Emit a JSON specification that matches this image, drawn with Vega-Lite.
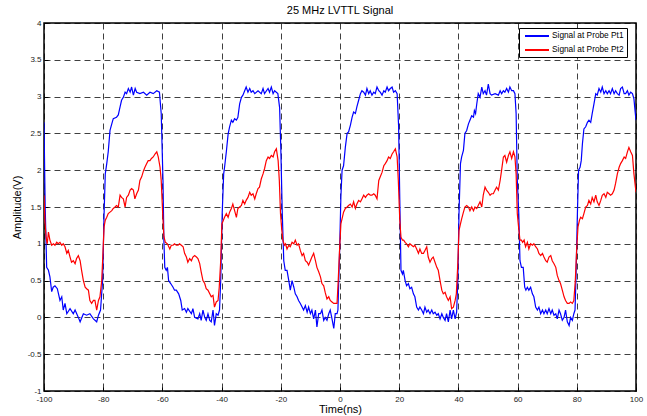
{
  "$schema": "https://vega.github.io/schema/vega-lite/v6.json",
  "width": 592,
  "height": 368,
  "autosize": "none",
  "padding": {"left": 44, "top": 23, "right": 11, "bottom": 25},
  "background": "#ffffff",
  "title": {"text": "25 MHz LVTTL Signal", "fontSize": 11, "fontWeight": "normal", "color": "#000", "font": "Liberation Sans", "offset": 3, "anchor": "middle"},
  "datasets": {
    "pt1": [
      {"t":-100.0,"v":2.65},{"t":-99.6,"v":1.5},{"t":-99.1,"v":0.68},{"t":-98.5,"v":0.64},{"t":-98.0,"v":0.55},{"t":-97.4,"v":0.35},{"t":-96.9,"v":0.41},{"t":-96.3,"v":0.43},{"t":-95.5,"v":0.39},{"t":-94.6,"v":0.23},{"t":-94.0,"v":0.28},{"t":-93.5,"v":0.10},{"t":-92.9,"v":0.19},{"t":-92.3,"v":0.05},{"t":-91.2,"v":0.12},{"t":-90.1,"v":0.05},{"t":-89.5,"v":0.10},{"t":-88.4,"v":0.00},{"t":-87.8,"v":-0.06},{"t":-86.7,"v":0.05},{"t":-85.6,"v":0.03},{"t":-84.5,"v":0.05},{"t":-83.3,"v":-0.02},{"t":-82.2,"v":-0.06},{"t":-81.6,"v":0.03},{"t":-80.9,"v":0.10},{"t":-80.2,"v":0.50},{"t":-79.7,"v":1.41},{"t":-79.3,"v":1.95},{"t":-78.8,"v":2.09},{"t":-78.3,"v":2.25},{"t":-77.7,"v":2.54},{"t":-77.1,"v":2.63},{"t":-76.6,"v":2.70},{"t":-75.5,"v":2.72},{"t":-74.9,"v":2.75},{"t":-74.3,"v":2.86},{"t":-73.8,"v":2.95},{"t":-73.2,"v":2.99},{"t":-72.6,"v":3.06},{"t":-72.1,"v":3.04},{"t":-71.5,"v":3.11},{"t":-70.9,"v":3.06},{"t":-70.4,"v":3.13},{"t":-69.8,"v":3.02},{"t":-69.2,"v":3.11},{"t":-68.7,"v":3.06},{"t":-67.6,"v":3.04},{"t":-66.4,"v":3.06},{"t":-65.3,"v":3.02},{"t":-64.2,"v":3.06},{"t":-63.1,"v":3.04},{"t":-61.9,"v":3.08},{"t":-61.0,"v":3.06},{"t":-60.4,"v":2.77},
      {"t":-59.8,"v":1.86},{"t":-59.5,"v":1.05},{"t":-59.2,"v":0.68},{"t":-58.7,"v":0.64},{"t":-58.3,"v":0.68},{"t":-57.9,"v":0.50},{"t":-57.2,"v":0.46},{"t":-56.4,"v":0.41},{"t":-55.9,"v":0.37},{"t":-55.3,"v":0.37},{"t":-54.5,"v":0.32},{"t":-53.8,"v":0.23},{"t":-53.3,"v":0.10},{"t":-52.5,"v":0.12},{"t":-51.9,"v":0.07},{"t":-51.4,"v":0.12},{"t":-50.2,"v":0.05},{"t":-49.7,"v":0.12},{"t":-49.1,"v":0.00},{"t":-48.0,"v":-0.02},{"t":-47.4,"v":0.05},{"t":-46.9,"v":-0.04},{"t":-46.3,"v":0.10},{"t":-45.7,"v":0.00},{"t":-45.2,"v":-0.04},{"t":-44.6,"v":0.05},{"t":-44.0,"v":-0.04},{"t":-43.5,"v":-0.06},{"t":-42.9,"v":0.10},{"t":-42.4,"v":-0.11},{"t":-41.8,"v":0.05},{"t":-41.2,"v":0.03},{"t":-40.7,"v":0.10},{"t":-40.3,"v":0.50},{"t":-39.8,"v":1.41},{"t":-39.3,"v":1.95},{"t":-39.0,"v":2.04},{"t":-38.4,"v":2.25},{"t":-37.8,"v":2.49},{"t":-37.3,"v":2.59},{"t":-36.7,"v":2.68},{"t":-36.2,"v":2.65},{"t":-35.6,"v":2.70},{"t":-35.0,"v":2.68},{"t":-34.5,"v":2.72},{"t":-33.9,"v":2.90},{"t":-33.3,"v":2.99},{"t":-32.8,"v":3.02},{"t":-32.2,"v":3.08},{"t":-31.7,"v":3.13},{"t":-31.1,"v":3.06},{"t":-30.5,"v":3.11},{"t":-30.0,"v":3.06},{"t":-29.4,"v":3.08},{"t":-28.8,"v":3.04},{"t":-27.7,"v":3.08},{"t":-26.6,"v":3.04},{"t":-26.0,"v":3.11},{"t":-25.5,"v":3.04},{"t":-24.3,"v":3.11},{"t":-23.8,"v":3.06},{"t":-23.2,"v":3.13},{"t":-22.6,"v":3.04},{"t":-22.1,"v":3.08},{"t":-21.0,"v":3.04},{"t":-20.4,"v":2.85},
      {"t":-20.0,"v":2.3},{"t":-19.5,"v":1.41},{"t":-19.0,"v":0.77},{"t":-18.5,"v":0.64},{"t":-17.9,"v":0.64},{"t":-17.3,"v":0.50},{"t":-16.8,"v":0.37},{"t":-16.2,"v":0.50},{"t":-15.6,"v":0.41},{"t":-15.1,"v":0.32},{"t":-14.5,"v":0.28},{"t":-14.0,"v":0.23},{"t":-13.4,"v":0.19},{"t":-12.8,"v":0.14},{"t":-12.3,"v":0.10},{"t":-11.7,"v":0.16},{"t":-11.1,"v":0.07},{"t":-10.6,"v":0.14},{"t":-10.0,"v":0.05},{"t":-9.5,"v":0.10},{"t":-8.9,"v":-0.02},{"t":-8.3,"v":0.10},{"t":-7.8,"v":-0.13},{"t":-7.2,"v":0.05},{"t":-6.6,"v":0.05},{"t":-6.1,"v":0.10},{"t":-5.5,"v":-0.04},{"t":-5.0,"v":0.00},{"t":-4.4,"v":-0.04},{"t":-3.8,"v":0.05},{"t":-3.3,"v":0.10},{"t":-2.7,"v":-0.02},{"t":-2.1,"v":-0.15},{"t":-1.6,"v":0.05},{"t":-1.0,"v":0.05},{"t":-0.7,"v":0.10},{"t":-0.1,"v":0.96},{"t":0.3,"v":1.64},{"t":0.7,"v":2.00},{"t":1.2,"v":2.06},{"t":1.8,"v":2.31},{"t":2.4,"v":2.50},{"t":2.9,"v":2.52},{"t":3.5,"v":2.61},{"t":4.1,"v":2.72},{"t":4.6,"v":2.79},{"t":5.2,"v":2.77},{"t":5.7,"v":2.86},{"t":6.3,"v":2.95},{"t":6.9,"v":3.04},{"t":7.4,"v":3.08},{"t":8.0,"v":3.06},{"t":8.6,"v":3.02},{"t":9.1,"v":3.11},{"t":9.7,"v":3.04},{"t":10.2,"v":3.08},{"t":10.8,"v":3.02},{"t":11.4,"v":3.06},{"t":11.9,"v":3.04},{"t":12.5,"v":3.13},{"t":13.1,"v":3.08},{"t":13.6,"v":3.06},{"t":14.2,"v":3.02},{"t":14.8,"v":3.08},{"t":15.3,"v":3.06},{"t":15.9,"v":3.13},{"t":16.4,"v":3.08},{"t":17.0,"v":3.11},{"t":17.6,"v":3.13},{"t":18.1,"v":3.06},{"t":18.7,"v":3.08},{"t":19.3,"v":3.04},{"t":19.8,"v":2.6},
      {"t":20.2,"v":1.6},{"t":20.6,"v":0.64},{"t":21.1,"v":0.59},{"t":21.4,"v":0.64},{"t":22.0,"v":0.50},{"t":22.5,"v":0.43},{"t":23.1,"v":0.46},{"t":23.6,"v":0.39},{"t":24.2,"v":0.41},{"t":24.8,"v":0.32},{"t":25.3,"v":0.28},{"t":25.9,"v":0.14},{"t":26.5,"v":0.10},{"t":27.0,"v":0.14},{"t":27.6,"v":0.10},{"t":28.2,"v":0.05},{"t":28.7,"v":0.14},{"t":29.3,"v":0.07},{"t":29.8,"v":0.10},{"t":30.4,"v":0.05},{"t":31.0,"v":0.10},{"t":31.5,"v":0.05},{"t":32.1,"v":0.07},{"t":32.7,"v":0.03},{"t":33.2,"v":0.05},{"t":33.8,"v":-0.02},{"t":34.4,"v":0.05},{"t":34.9,"v":0.00},{"t":35.5,"v":-0.04},{"t":36.0,"v":0.05},{"t":36.6,"v":-0.06},{"t":37.2,"v":0.10},{"t":37.7,"v":-0.02},{"t":38.3,"v":0.10},{"t":38.9,"v":-0.02},{"t":39.4,"v":0.07},{"t":39.8,"v":0.50},{"t":40.2,"v":1.41},{"t":40.7,"v":2.09},{"t":41.1,"v":2.18},{"t":41.7,"v":2.27},{"t":42.2,"v":2.50},{"t":42.8,"v":2.54},{"t":43.4,"v":2.63},{"t":43.9,"v":2.68},{"t":44.5,"v":2.74},{"t":45.1,"v":2.72},{"t":45.4,"v":2.81},{"t":45.8,"v":2.77},{"t":46.2,"v":2.90},{"t":46.7,"v":3.04},{"t":47.3,"v":2.99},{"t":47.9,"v":3.13},{"t":48.4,"v":3.04},{"t":49.0,"v":3.08},{"t":49.5,"v":3.02},{"t":50.1,"v":3.17},{"t":50.7,"v":3.04},{"t":51.2,"v":3.02},{"t":52.4,"v":3.04},{"t":53.5,"v":3.02},{"t":54.1,"v":3.08},{"t":54.6,"v":3.04},{"t":55.2,"v":3.08},{"t":55.7,"v":3.06},{"t":56.3,"v":3.11},{"t":56.9,"v":3.06},{"t":57.4,"v":3.13},{"t":58.0,"v":3.08},{"t":58.6,"v":3.08},{"t":59.1,"v":3.04},{"t":59.5,"v":2.77},{"t":59.9,"v":1.86},
      {"t":60.4,"v":1.41},{"t":60.8,"v":0.77},{"t":61.3,"v":0.68},{"t":61.9,"v":0.68},{"t":62.4,"v":0.41},{"t":62.8,"v":0.37},{"t":63.3,"v":0.41},{"t":63.8,"v":0.37},{"t":64.4,"v":0.41},{"t":65.0,"v":0.32},{"t":65.5,"v":0.28},{"t":66.1,"v":0.14},{"t":66.7,"v":0.10},{"t":67.2,"v":0.14},{"t":67.8,"v":0.05},{"t":68.4,"v":0.10},{"t":68.9,"v":0.05},{"t":69.5,"v":0.10},{"t":70.0,"v":0.05},{"t":70.6,"v":0.12},{"t":71.2,"v":0.05},{"t":71.7,"v":0.10},{"t":72.3,"v":0.03},{"t":72.9,"v":0.05},{"t":73.4,"v":-0.02},{"t":74.0,"v":0.10},{"t":74.5,"v":0.05},{"t":75.1,"v":-0.04},{"t":75.7,"v":0.00},{"t":76.2,"v":0.10},{"t":76.8,"v":-0.06},{"t":77.4,"v":-0.11},{"t":77.9,"v":0.00},{"t":78.5,"v":-0.04},{"t":79.0,"v":0.05},{"t":79.4,"v":0.10},{"t":79.7,"v":0.50},{"t":80.2,"v":1.41},{"t":80.6,"v":2.00},{"t":81.1,"v":2.04},{"t":81.5,"v":2.13},{"t":81.9,"v":2.36},{"t":82.4,"v":2.56},{"t":83.0,"v":2.59},{"t":83.6,"v":2.65},{"t":84.1,"v":2.68},{"t":84.7,"v":2.65},{"t":85.2,"v":2.77},{"t":85.8,"v":2.90},{"t":86.4,"v":3.04},{"t":86.9,"v":3.02},{"t":87.5,"v":3.11},{"t":88.1,"v":3.06},{"t":88.6,"v":3.13},{"t":89.2,"v":3.04},{"t":89.8,"v":3.08},{"t":90.3,"v":3.04},{"t":90.9,"v":3.08},{"t":91.4,"v":3.04},{"t":92.0,"v":3.11},{"t":92.6,"v":3.04},{"t":93.1,"v":3.08},{"t":93.7,"v":3.04},{"t":94.3,"v":3.02},{"t":94.8,"v":3.11},{"t":95.4,"v":3.13},{"t":96.0,"v":3.04},{"t":96.5,"v":3.04},{"t":97.1,"v":3.08},{"t":97.6,"v":3.02},{"t":98.2,"v":3.06},{"t":98.8,"v":3.04},{"t":99.3,"v":2.97},{"t":99.7,"v":2.80},{"t":100.0,"v":2.68}
    ],
    "pt2": [
      {"t":-100.0,"v":1.66},{"t":-99.7,"v":1.32},{"t":-99.3,"v":1.09},{"t":-98.9,"v":1.00},{"t":-98.5,"v":1.16},{"t":-98.0,"v":1.05},{"t":-97.4,"v":0.98},{"t":-96.8,"v":1.00},{"t":-96.3,"v":0.98},{"t":-95.7,"v":1.02},{"t":-95.2,"v":1.00},{"t":-94.6,"v":1.02},{"t":-94.0,"v":0.98},{"t":-93.5,"v":1.00},{"t":-92.9,"v":0.96},{"t":-92.3,"v":0.87},{"t":-91.8,"v":0.91},{"t":-91.2,"v":0.82},{"t":-90.7,"v":0.75},{"t":-90.1,"v":0.77},{"t":-89.5,"v":0.73},{"t":-89.0,"v":0.80},{"t":-88.4,"v":0.84},{"t":-87.8,"v":0.77},{"t":-87.3,"v":0.64},{"t":-86.7,"v":0.50},{"t":-86.1,"v":0.41},{"t":-85.6,"v":0.39},{"t":-85.0,"v":0.37},{"t":-84.5,"v":0.23},{"t":-83.9,"v":0.19},{"t":-83.3,"v":0.23},{"t":-82.8,"v":0.23},{"t":-82.2,"v":0.10},{"t":-81.6,"v":0.23},{"t":-81.1,"v":0.28},{"t":-80.5,"v":0.50},{"t":-80.2,"v":0.77},{"t":-79.7,"v":1.23},{"t":-79.3,"v":1.32},{"t":-78.8,"v":1.36},{"t":-78.3,"v":1.41},{"t":-77.7,"v":1.43},{"t":-77.1,"v":1.45},{"t":-76.6,"v":1.48},{"t":-76.0,"v":1.50},{"t":-75.5,"v":1.52},{"t":-74.9,"v":1.50},{"t":-74.3,"v":1.66},{"t":-73.8,"v":1.63},{"t":-73.2,"v":1.61},{"t":-72.6,"v":1.50},{"t":-72.1,"v":1.63},{"t":-71.5,"v":1.66},{"t":-70.9,"v":1.73},{"t":-70.4,"v":1.75},{"t":-69.8,"v":1.73},{"t":-69.3,"v":1.61},{"t":-68.7,"v":1.68},{"t":-68.1,"v":1.73},{"t":-67.6,"v":1.86},{"t":-67.0,"v":1.91},{"t":-66.4,"v":1.99},{"t":-65.9,"v":2.04},{"t":-65.3,"v":2.09},{"t":-64.8,"v":2.13},{"t":-64.2,"v":2.13},{"t":-63.7,"v":2.16},{"t":-63.1,"v":2.18},{"t":-62.5,"v":2.22},{"t":-61.9,"v":2.25},{"t":-61.4,"v":2.18},{"t":-60.8,"v":2.04},{"t":-60.4,"v":1.86},{"t":-59.9,"v":1.41},
      {"t":-59.5,"v":1.10},{"t":-59.0,"v":1.02},{"t":-58.3,"v":1.00},{"t":-57.5,"v":0.93},{"t":-57.0,"v":0.98},{"t":-56.4,"v":0.98},{"t":-55.9,"v":1.00},{"t":-55.3,"v":0.98},{"t":-54.7,"v":0.98},{"t":-54.2,"v":1.00},{"t":-53.6,"v":0.98},{"t":-53.0,"v":0.96},{"t":-52.5,"v":0.87},{"t":-51.9,"v":0.82},{"t":-51.4,"v":0.75},{"t":-50.8,"v":0.80},{"t":-50.2,"v":0.77},{"t":-49.7,"v":0.82},{"t":-49.1,"v":0.84},{"t":-48.5,"v":0.82},{"t":-48.0,"v":0.80},{"t":-47.4,"v":0.73},{"t":-46.9,"v":0.62},{"t":-46.3,"v":0.50},{"t":-45.7,"v":0.46},{"t":-45.2,"v":0.39},{"t":-44.6,"v":0.37},{"t":-44.0,"v":0.32},{"t":-43.5,"v":0.28},{"t":-42.9,"v":0.30},{"t":-42.4,"v":0.14},{"t":-41.8,"v":0.21},{"t":-41.2,"v":0.23},{"t":-40.8,"v":0.41},{"t":-40.3,"v":0.77},{"t":-39.9,"v":1.27},{"t":-39.4,"v":1.32},{"t":-39.0,"v":1.36},{"t":-38.4,"v":1.41},{"t":-37.8,"v":1.36},{"t":-37.3,"v":1.43},{"t":-36.7,"v":1.48},{"t":-36.2,"v":1.54},{"t":-35.6,"v":1.45},{"t":-35.0,"v":1.36},{"t":-34.5,"v":1.48},{"t":-33.9,"v":1.50},{"t":-33.3,"v":1.52},{"t":-32.8,"v":1.59},{"t":-32.2,"v":1.54},{"t":-31.7,"v":1.59},{"t":-31.1,"v":1.63},{"t":-30.5,"v":1.70},{"t":-30.0,"v":1.66},{"t":-29.4,"v":1.68},{"t":-28.8,"v":1.61},{"t":-28.3,"v":1.68},{"t":-27.7,"v":1.75},{"t":-27.2,"v":1.77},{"t":-26.6,"v":1.88},{"t":-26.0,"v":1.95},{"t":-25.5,"v":2.02},{"t":-24.9,"v":2.13},{"t":-24.3,"v":2.18},{"t":-23.8,"v":2.16},{"t":-23.2,"v":2.20},{"t":-22.6,"v":2.18},{"t":-22.1,"v":2.25},{"t":-21.5,"v":2.29},{"t":-20.9,"v":2.13},{"t":-20.5,"v":1.86},{"t":-20.1,"v":1.41},
      {"t":-19.7,"v":1.20},{"t":-19.3,"v":1.05},{"t":-18.8,"v":0.98},{"t":-18.4,"v":1.00},{"t":-17.9,"v":0.93},{"t":-17.3,"v":0.98},{"t":-16.8,"v":0.96},{"t":-16.2,"v":1.02},{"t":-15.6,"v":1.00},{"t":-15.1,"v":1.05},{"t":-14.5,"v":0.98},{"t":-14.0,"v":1.00},{"t":-13.4,"v":0.91},{"t":-12.8,"v":0.84},{"t":-12.3,"v":0.87},{"t":-11.7,"v":0.77},{"t":-11.1,"v":0.75},{"t":-10.6,"v":0.71},{"t":-10.0,"v":0.77},{"t":-9.5,"v":0.82},{"t":-8.9,"v":0.87},{"t":-8.3,"v":0.77},{"t":-7.8,"v":0.68},{"t":-7.2,"v":0.62},{"t":-6.6,"v":0.55},{"t":-6.1,"v":0.46},{"t":-5.5,"v":0.43},{"t":-5.0,"v":0.34},{"t":-4.4,"v":0.25},{"t":-3.8,"v":0.28},{"t":-3.3,"v":0.23},{"t":-2.7,"v":0.21},{"t":-2.1,"v":0.19},{"t":-1.6,"v":0.19},{"t":-1.0,"v":0.19},{"t":-0.6,"v":0.50},{"t":-0.1,"v":0.96},{"t":0.3,"v":1.27},{"t":0.8,"v":1.36},{"t":1.2,"v":1.43},{"t":1.8,"v":1.48},{"t":2.4,"v":1.50},{"t":2.9,"v":1.52},{"t":3.5,"v":1.54},{"t":4.1,"v":1.50},{"t":4.6,"v":1.57},{"t":5.2,"v":1.48},{"t":5.7,"v":1.54},{"t":6.3,"v":1.59},{"t":6.9,"v":1.57},{"t":7.4,"v":1.61},{"t":8.0,"v":1.66},{"t":8.6,"v":1.63},{"t":9.1,"v":1.66},{"t":9.7,"v":1.68},{"t":10.2,"v":1.66},{"t":10.8,"v":1.66},{"t":11.4,"v":1.68},{"t":11.9,"v":1.66},{"t":12.5,"v":1.61},{"t":13.1,"v":1.86},{"t":13.6,"v":1.91},{"t":14.2,"v":1.97},{"t":14.8,"v":2.06},{"t":15.3,"v":2.09},{"t":15.9,"v":2.13},{"t":16.4,"v":2.18},{"t":17.0,"v":2.16},{"t":17.6,"v":2.22},{"t":18.1,"v":2.25},{"t":18.7,"v":2.29},{"t":19.3,"v":2.18},{"t":19.7,"v":1.86},{"t":20.2,"v":1.32},
      {"t":20.6,"v":1.09},{"t":21.1,"v":1.05},{"t":21.5,"v":1.05},{"t":22.0,"v":1.02},{"t":22.5,"v":1.00},{"t":23.1,"v":0.96},{"t":23.6,"v":1.00},{"t":24.2,"v":0.98},{"t":24.8,"v":0.96},{"t":25.3,"v":0.98},{"t":25.9,"v":0.93},{"t":26.5,"v":0.87},{"t":27.0,"v":0.93},{"t":27.6,"v":0.87},{"t":28.2,"v":0.87},{"t":28.7,"v":0.91},{"t":29.3,"v":0.96},{"t":29.8,"v":0.82},{"t":30.4,"v":0.75},{"t":31.0,"v":0.80},{"t":31.5,"v":0.82},{"t":32.1,"v":0.75},{"t":32.7,"v":0.68},{"t":33.2,"v":0.64},{"t":33.8,"v":0.50},{"t":34.4,"v":0.37},{"t":34.9,"v":0.32},{"t":35.5,"v":0.34},{"t":36.0,"v":0.28},{"t":36.6,"v":0.23},{"t":37.2,"v":0.28},{"t":37.7,"v":0.12},{"t":38.3,"v":0.14},{"t":38.9,"v":0.23},{"t":39.3,"v":0.32},{"t":39.8,"v":0.73},{"t":40.2,"v":1.18},{"t":40.7,"v":1.27},{"t":41.1,"v":1.34},{"t":41.7,"v":1.43},{"t":42.2,"v":1.50},{"t":42.8,"v":1.52},{"t":43.4,"v":1.50},{"t":43.9,"v":1.45},{"t":44.5,"v":1.50},{"t":45.1,"v":1.45},{"t":45.6,"v":1.50},{"t":46.2,"v":1.48},{"t":46.7,"v":1.52},{"t":47.3,"v":1.57},{"t":47.9,"v":1.50},{"t":48.4,"v":1.66},{"t":49.0,"v":1.77},{"t":49.5,"v":1.73},{"t":50.1,"v":1.70},{"t":50.7,"v":1.66},{"t":51.2,"v":1.68},{"t":51.8,"v":1.68},{"t":52.4,"v":1.73},{"t":52.9,"v":1.77},{"t":53.5,"v":1.73},{"t":54.1,"v":1.86},{"t":54.6,"v":2.00},{"t":55.2,"v":2.18},{"t":55.7,"v":2.20},{"t":56.3,"v":2.11},{"t":56.9,"v":2.20},{"t":57.4,"v":2.25},{"t":58.0,"v":2.16},{"t":58.6,"v":2.25},{"t":59.1,"v":2.18},{"t":59.5,"v":1.95},{"t":59.9,"v":1.41},
      {"t":60.4,"v":1.20},{"t":60.8,"v":1.05},{"t":61.3,"v":1.05},{"t":61.7,"v":1.02},{"t":62.2,"v":1.05},{"t":62.7,"v":0.96},{"t":63.3,"v":1.02},{"t":63.8,"v":0.93},{"t":64.4,"v":1.00},{"t":65.0,"v":0.98},{"t":65.5,"v":1.00},{"t":66.1,"v":0.96},{"t":66.7,"v":0.93},{"t":67.2,"v":0.87},{"t":67.8,"v":0.84},{"t":68.4,"v":0.87},{"t":68.9,"v":0.82},{"t":69.5,"v":0.77},{"t":70.0,"v":0.75},{"t":70.6,"v":0.82},{"t":71.2,"v":0.84},{"t":71.7,"v":0.77},{"t":72.3,"v":0.73},{"t":72.9,"v":0.68},{"t":73.4,"v":0.57},{"t":74.0,"v":0.50},{"t":74.5,"v":0.46},{"t":75.1,"v":0.37},{"t":75.7,"v":0.28},{"t":76.2,"v":0.23},{"t":76.8,"v":0.19},{"t":77.4,"v":0.19},{"t":77.9,"v":0.21},{"t":78.5,"v":0.19},{"t":79.0,"v":0.23},{"t":79.5,"v":0.50},{"t":80.0,"v":0.96},{"t":80.4,"v":1.23},{"t":80.9,"v":1.32},{"t":81.3,"v":1.36},{"t":81.9,"v":1.34},{"t":82.4,"v":1.41},{"t":83.0,"v":1.50},{"t":83.6,"v":1.52},{"t":84.1,"v":1.59},{"t":84.7,"v":1.54},{"t":85.2,"v":1.63},{"t":85.8,"v":1.57},{"t":86.4,"v":1.66},{"t":86.9,"v":1.57},{"t":87.5,"v":1.52},{"t":88.1,"v":1.59},{"t":88.6,"v":1.66},{"t":89.2,"v":1.68},{"t":89.8,"v":1.63},{"t":90.3,"v":1.70},{"t":90.9,"v":1.68},{"t":91.4,"v":1.66},{"t":92.0,"v":1.68},{"t":92.6,"v":1.73},{"t":93.1,"v":1.82},{"t":93.7,"v":1.95},{"t":94.3,"v":2.04},{"t":94.8,"v":2.09},{"t":95.4,"v":2.13},{"t":96.0,"v":2.18},{"t":96.5,"v":2.16},{"t":97.1,"v":2.25},{"t":97.6,"v":2.31},{"t":98.2,"v":2.25},{"t":98.8,"v":2.20},{"t":99.3,"v":1.95},{"t":100.0,"v":1.70}
    ]
  },
  "encoding": {
    "x": {"field": "t", "type": "quantitative", "scale": {"domain": [-100, 100], "nice": false, "zero": false},
      "axis": {"title": "Time(ns)", "values": [-100,-80,-60,-40,-20,0,20,40,60,80,100], "labelExpr": "'' + datum.value"}},
    "y": {"field": "v", "type": "quantitative", "scale": {"domain": [-1, 4], "nice": false, "zero": false},
      "axis": {"title": "Amplitude(V)", "values": [-1,-0.5,0,0.5,1,1.5,2,2.5,3,3.5,4], "labelExpr": "'' + datum.value"}}
  },
  "layer": [
    {"data": {"name": "pt1"}, "mark": {"type": "line", "strokeWidth": 1.2, "clip": true},
      "encoding": {"color": {"datum": "Signal at Probe Pt1", "type": "nominal",
        "scale": {"domain": ["Signal at Probe Pt1", "Signal at Probe Pt2"], "range": ["#0000ff", "#ff0000"]},
        "legend": {"title": null, "orient": "none", "legendX": 475, "legendY": 5, "direction": "vertical", "fillColor": "#ffffff", "strokeColor": "#000000", "padding": 3, "symbolType": "M-3,0H3", "symbolSize": 64, "symbolOffset": 10, "symbolStrokeWidth": 2, "labelFontSize": 8.3, "labelFont": "Liberation Sans", "labelColor": "#000", "rowPadding": 5, "labelOffset": 10}}}},
    {"data": {"name": "pt2"}, "mark": {"type": "line", "strokeWidth": 1.2, "clip": true},
      "encoding": {"color": {"datum": "Signal at Probe Pt2", "type": "nominal"}}}
  ],
  "config": {
    "font": "Liberation Sans",
    "view": {"stroke": "#000000", "strokeWidth": 1.5},
    "axis": {
      "grid": true, "gridColor": "#000000", "gridDash": [6, 4], "gridOpacity": 0.75, "gridWidth": 1,
      "domain": false, "ticks": true, "tickSize": -4, "tickColor": "#000", "tickWidth": 1,
      "labelFontSize": 8, "labelColor": "#222", "labelFlush": false, "labelOverlap": false,
      "titleFontSize": 11, "titleFontWeight": "normal", "titleColor": "#000"
    },
    "axisX": {"labelPadding": 8, "titlePadding": 0},
    "axisY": {"labelPadding": 7, "titlePadding": 5}
  }
}
